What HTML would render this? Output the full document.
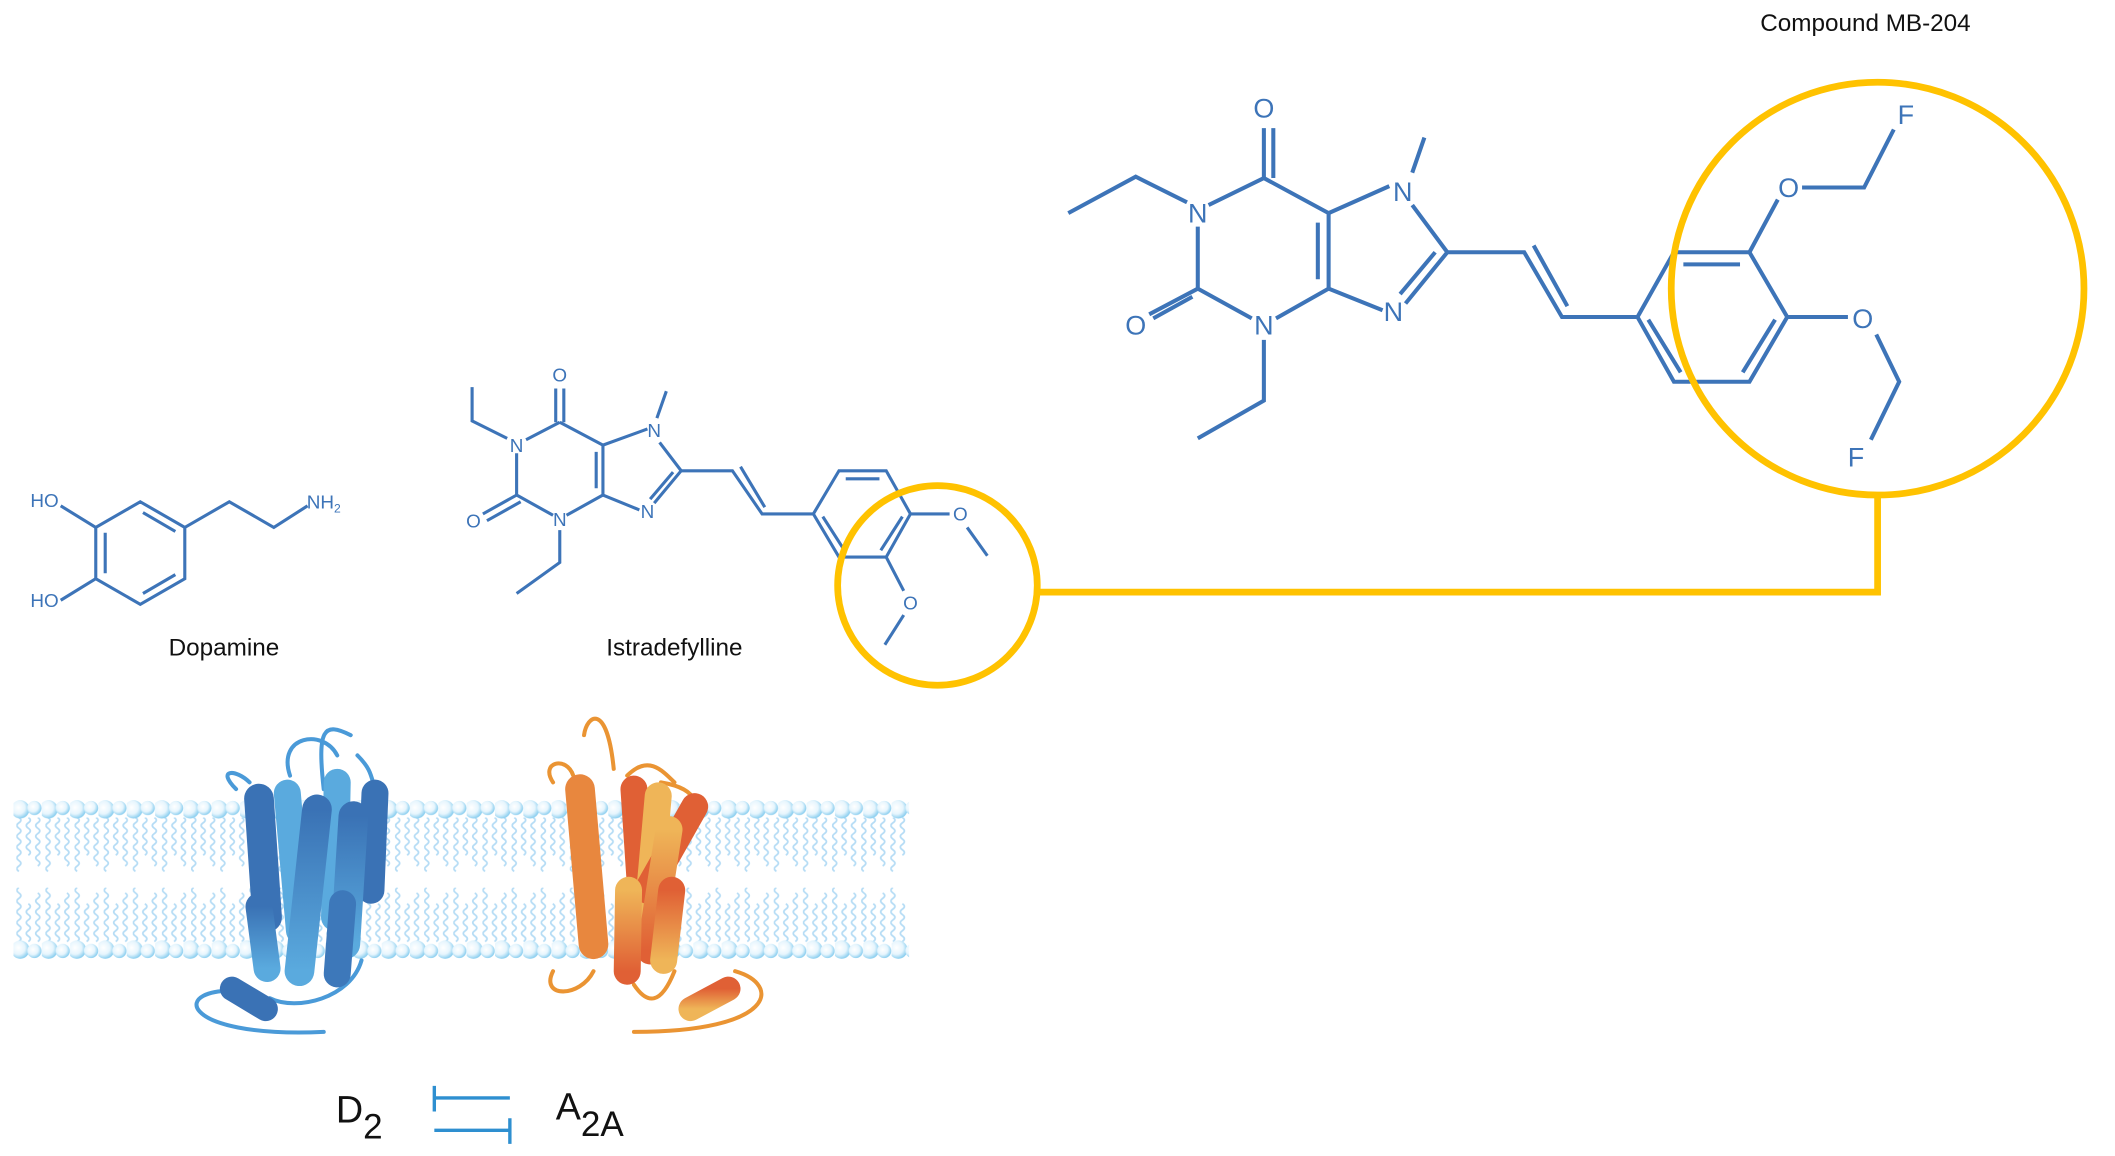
<!DOCTYPE html>
<html><head><meta charset="utf-8"><style>
html,body{margin:0;padding:0;background:#fff;}
svg{display:block;}
text{font-family:"Liberation Sans",sans-serif;}
</style></head><body>
<svg width="2115" height="1156" viewBox="0 0 1568 857" preserveAspectRatio="none" xmlns="http://www.w3.org/2000/svg">
<defs>
<radialGradient id="hd" cx="0.4" cy="0.4" r="0.6"><stop offset="0" stop-color="#fff"/><stop offset="0.6" stop-color="#e6f5fd"/><stop offset="1" stop-color="#8fd0f0"/></radialGradient>
<linearGradient id="bl" x1="0" y1="0" x2="0" y2="1"><stop offset="0" stop-color="#3a72b5"/><stop offset="1" stop-color="#5aaade"/></linearGradient>
<linearGradient id="or" x1="0" y1="0" x2="0" y2="1"><stop offset="0" stop-color="#e06035"/><stop offset="1" stop-color="#efb558"/></linearGradient>
<linearGradient id="or2" x1="0" y1="0" x2="0" y2="1"><stop offset="0" stop-color="#efb558"/><stop offset="1" stop-color="#e06035"/></linearGradient>
<pattern id="heads" x="10" y="592" width="21" height="16" patternUnits="userSpaceOnUse">
<circle cx="5" cy="8" r="6.8" fill="url(#hd)"/><circle cx="15.5" cy="7" r="5.3" fill="url(#hd)"/>
</pattern>
<pattern id="headsb" x="10" y="696" width="21" height="16" patternUnits="userSpaceOnUse">
<circle cx="5" cy="8" r="6.8" fill="url(#hd)"/><circle cx="15.5" cy="9" r="5.3" fill="url(#hd)"/>
</pattern>
<pattern id="tu" x="12" y="606" width="21.6" height="60" patternUnits="userSpaceOnUse">
<g stroke="#b5dcf5" stroke-width="1.3" fill="none">
<path d="M2,0q3,2 0,4q-3,2 0,4q3,2 0,4q-3,2 0,4q3,2 0,4q-3,2 0,4q3,2 0,4q-3,2 0,4q3,2 0,4q-3,2 0,4"/>
<path d="M9,0q3,2 0,4q-3,2 0,4q3,2 0,4q-3,2 0,4q3,2 0,4q-3,2 0,4q3,2 0,4"/>
<path d="M16,0q3,2 0,4q-3,2 0,4q3,2 0,4q-3,2 0,4q3,2 0,4q-3,2 0,4q3,2 0,4q-3,2 0,4q3,2 0,4"/>
</g></pattern>
<pattern id="tl" x="12" y="650" width="21.6" height="50" patternUnits="userSpaceOnUse">
<g stroke="#b5dcf5" stroke-width="1.3" fill="none">
<path d="M2,48q3,-2 0,-4q-3,-2 0,-4q3,-2 0,-4q-3,-2 0,-4q3,-2 0,-4q-3,-2 0,-4q3,-2 0,-4q-3,-2 0,-4q3,-2 0,-4q-3,-2 0,-4"/>
<path d="M9,48q3,-2 0,-4q-3,-2 0,-4q3,-2 0,-4q-3,-2 0,-4q3,-2 0,-4q-3,-2 0,-4q3,-2 0,-4"/>
<path d="M16,48q3,-2 0,-4q-3,-2 0,-4q3,-2 0,-4q-3,-2 0,-4q3,-2 0,-4q-3,-2 0,-4q3,-2 0,-4q-3,-2 0,-4q3,-2 0,-4"/>
</g></pattern>
</defs>

<g>
<rect x="12" y="606" width="660" height="44" fill="url(#tu)"/>
<rect x="12" y="658" width="660" height="42" fill="url(#tl)"/>
<rect x="10" y="592" width="664" height="16" fill="url(#heads)"/>
<rect x="10" y="696" width="664" height="16" fill="url(#headsb)"/>
</g>

<g stroke="#3d74b8" stroke-width="3" fill="none" stroke-linecap="butt">
<path d="M937,95V132 M944,95V132"/>
<path d="M937,132L896,152 M937,132L985,158 M985,158V214 M977,165V207 M985,214L946,236 M928,236L888,214 M888,214V168 M880,150L842,131L792,158"/>
<path d="M888,214L852,233 M884,220L855,236"/>
<path d="M937,252V297L888,325"/>
<path d="M985,158L1030,138 M985,214L1025,230 M1047,152L1073,187 M1073,187L1042,225 M1064,187L1038,218 M1047,128L1056,102"/>
<path d="M1073,187H1130L1158,235H1214 M1137,182L1162,227"/>
<path d="M1214,235L1241,187H1297L1325,235L1297,283H1241Z M1248,196H1290 M1316,237L1292,276 M1222,237L1246,276"/>
<path d="M1297,187L1318,148 M1336,139H1382L1404,96 M1325,235H1370 M1391,248L1408,283L1387,326"/>
<g stroke-width="2.3">
<path d="M412,288V313 M418,288V313"/>
<path d="M415,313L390,326 M415,313L447,330 M447,330V367 M442,335V362 M447,367L420,382 M410,382L383,367 M383,367V336 M376,325L350,312V287"/>
<path d="M383,367L358,381 M386,372L361,386"/>
<path d="M415,393V417L383,440"/>
<path d="M447,330L480,318 M447,367L474,378 M489,328L505,349L485,373 M499,350L482,370 M487,310L494,290"/>
<path d="M505,349H543L565,381H603 M549,346L567,376"/>
<path d="M603,381L622,349H657L675,381L657,413H622Z M627,355H652 M669,383L653,408 M610,383L626,408"/>
<path d="M675,381H704 M717,391L732,412 M657,413L670,438 M670,456L656,478"/>
<path d="M104,372L137,391V429L104,448L71,429V391Z M106,380L130,394 M78,395V425 M106,440L130,426"/>
<path d="M71,391L45,375 M71,429L45,445 M137,391L170,372L203,391L228,375"/>
</g>
</g>
<g fill="#3d74b8" font-size="20" text-anchor="middle">
<text x="937" y="87">O</text><text x="888" y="165">N</text><text x="842" y="248">O</text><text x="937" y="248">N</text>
<text x="1040" y="149">N</text><text x="1033" y="238">N</text>
<text x="1326" y="146">O</text><text x="1381" y="243">O</text><text x="1413" y="92">F</text><text x="1376" y="346">F</text>
</g>
<g fill="#3d74b8" font-size="14" text-anchor="middle">
<text x="415" y="283">O</text><text x="383" y="335">N</text><text x="351" y="391">O</text><text x="415" y="390">N</text>
<text x="485" y="324">N</text><text x="480" y="384">N</text><text x="712" y="386">O</text><text x="675" y="452">O</text>
<text x="33" y="376">HO</text><text x="33" y="450">HO</text><text x="240" y="377">NH<tspan font-size="9" dy="3">2</tspan></text>
</g>
<g fill="#111" font-size="18" text-anchor="middle">
<text x="1383" y="23">Compound MB-204</text>
<text x="166" y="486">Dopamine</text>
<text x="500" y="486">Istradefylline</text>
</g>

<g stroke="#ffc200" stroke-width="5" fill="none">
<circle cx="1392" cy="214" r="153"/>
<circle cx="695" cy="434" r="74"/>
<path d="M1392,367V439H769"/>
</g>

<g fill="none" stroke="#4a9ad8" stroke-width="3" stroke-linecap="round">
<path d="M175,585C160,570 175,570 185,580 M215,575C205,545 240,540 250,560 M240,585C235,540 240,535 260,545 M265,560 C275,570 275,575 278,585"/>
<path d="M180,735C125,730 130,770 240,765 M200,740C220,750 260,740 268,712"/>
</g>
<g stroke-linecap="round" fill="none">
<line x1="192" y1="592" x2="198" y2="680" stroke="#3a72b5" stroke-width="22"/>
<line x1="213" y1="588" x2="222" y2="690" stroke="#5aaade" stroke-width="20"/>
<line x1="278" y1="588" x2="275" y2="660" stroke="#3a72b5" stroke-width="20"/>
<line x1="250" y1="580" x2="248" y2="680" stroke="#5aaade" stroke-width="20"/>
<line x1="262" y1="605" x2="256" y2="700" stroke="url(#bl)" stroke-width="22"/>
<line x1="235" y1="600" x2="222" y2="720" stroke="url(#bl)" stroke-width="22"/>
<line x1="192" y1="672" x2="198" y2="718" stroke="url(#bl)" stroke-width="20"/>
<line x1="254" y1="670" x2="250" y2="722" stroke="#3d78ba" stroke-width="20"/>
<line x1="172" y1="733" x2="197" y2="748" stroke="#3a72b5" stroke-width="18"/>
</g>

<g fill="none" stroke="#ea9433" stroke-width="3" stroke-linecap="round">
<path d="M410,580C400,565 420,560 425,575 M455,570C450,520 435,530 433,545 M465,575C480,560 490,570 500,580 M490,580C520,585 520,600 505,610"/>
<path d="M545,720C580,730 575,765 470,765 M410,720C400,740 430,740 440,720 M470,730C480,745 490,745 500,720"/>
</g>
<g stroke-linecap="round" fill="none">
<line x1="430" y1="585" x2="440" y2="700" stroke="#e8873e" stroke-width="22"/>
<line x1="470" y1="585" x2="475" y2="660" stroke="#e06035" stroke-width="20"/>
<line x1="488" y1="590" x2="480" y2="680" stroke="#efb558" stroke-width="20"/>
<line x1="440" y1="600" x2="440" y2="715" stroke="url(#or)" stroke-width="22"/>
<line x1="515" y1="598" x2="480" y2="660" stroke="#e06035" stroke-width="20"/>
<line x1="496" y1="615" x2="482" y2="705" stroke="url(#or2)" stroke-width="20"/>
<line x1="466" y1="660" x2="465" y2="720" stroke="url(#or2)" stroke-width="20"/>
<line x1="498" y1="660" x2="492" y2="712" stroke="url(#or)" stroke-width="20"/>
<line x1="512" y1="748" x2="540" y2="733" stroke="url(#or)" stroke-width="18"/>
</g>

<g fill="#111" font-size="28">
<text x="249" y="832">D<tspan font-size="26" dy="12">2</tspan></text>
<text x="412" y="830">A<tspan font-size="26" dy="12">2A</tspan></text>
</g>
<g stroke="#2e8fd0" stroke-width="2.5" fill="none">
<path d="M322,805V824 M322,814H378 M322,838H378 M378,829V848"/>
</g>
</svg>
</body></html>
